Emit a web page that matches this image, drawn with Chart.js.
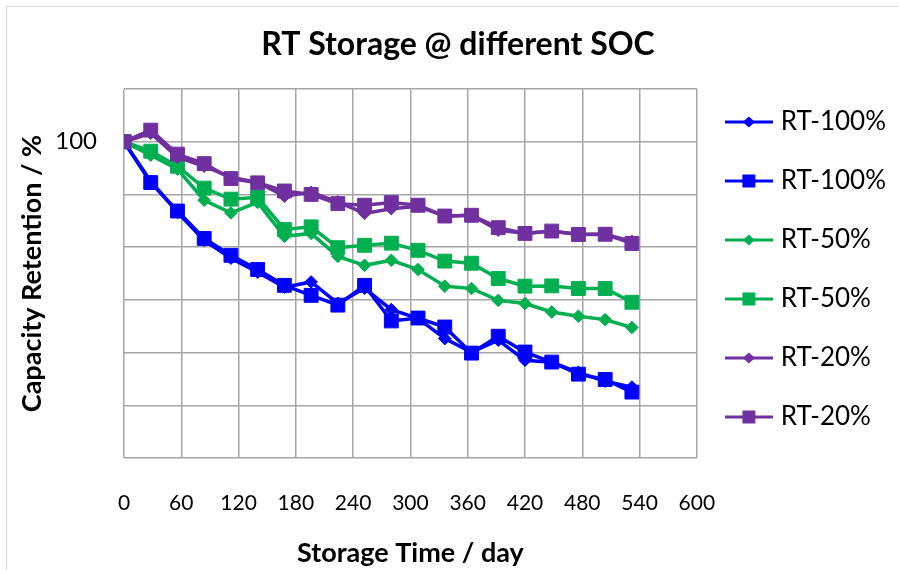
<!DOCTYPE html>
<html>
<head>
<meta charset="utf-8">
<script src="https://cdn.jsdelivr.net/npm/chart.js@4.4.1/dist/chart.umd.min.js"></script>
<style>
html,body{margin:0;padding:0;background:#fff;}
#wrap{width:899px;height:570px;position:relative;}
</style>
</head>
<body>
<div id="wrap"><canvas id="c" width="899" height="570"></canvas></div>
<script>
// ---- data ----
const days = [0,28,56,84,112,140,168,196,224,252,280,308,336,364,392,420,448,476,504,532];
const rt100Diamond = [100,98.50,97.32,96.26,95.58,95.05,94.48,94.68,93.87,94.44,93.63,93.30,92.53,92.01,92.47,91.71,91.63,91.25,90.91,90.69];
const rt100Square  = [100,98.45,97.37,96.33,95.69,95.15,94.55,94.17,93.80,94.55,93.20,93.31,92.97,91.98,92.62,92.02,91.64,91.18,90.98,90.50];
const rt50Diamond  = [100,99.49,98.96,97.78,97.30,97.70,96.41,96.52,95.65,95.31,95.50,95.15,94.52,94.43,93.98,93.86,93.54,93.38,93.25,92.95];
const rt50Square   = [100,99.64,99.07,98.24,97.82,97.89,96.67,96.77,95.98,96.07,96.15,95.88,95.47,95.39,94.81,94.52,94.53,94.43,94.43,93.91];
const rt20Diamond  = [100,100.32,99.41,99.07,98.65,98.46,97.93,98.08,97.72,97.28,97.46,97.55,97.17,97.21,96.64,96.53,96.60,96.49,96.49,96.22];
const rt20Square   = [100,100.44,99.53,99.17,98.60,98.44,98.13,98.00,97.65,97.59,97.69,97.59,97.18,97.21,96.74,96.52,96.61,96.48,96.49,96.14];
const seriesNames = ['RT-100%','RT-100%','RT-50%','RT-50%','RT-20%','RT-20%'];
const seriesValues = [rt100Diamond, rt100Square, rt50Diamond, rt50Square, rt20Diamond, rt20Square];
const xTickValues = [0,60,120,180,240,300,360,420,480,540,600];
const yShownTick = 100;

// ---- styles ----
const colors = ['#0000FF','#0000FF','#00B050','#00B050','#7030A0','#7030A0'];
const shapes = ['rectRot','rect','rectRot','rect','rectRot','rect'];
const FONT = 'Lato, "Open Sans", sans-serif';

function makeIcon(color, shape){
  const c = document.createElement('canvas');
  c.width = 48; c.height = 16;
  const g = c.getContext('2d');
  g.strokeStyle = color; g.lineWidth = 3;
  g.beginPath(); g.moveTo(0,8); g.lineTo(48,8); g.stroke();
  g.fillStyle = color;
  if (shape === 'rect') {
    g.fillRect(24-6.5, 8-6.5, 13, 13);
  } else {
    g.beginPath(); g.moveTo(18,8); g.lineTo(24,2.5); g.lineTo(30,8); g.lineTo(24,13.5); g.closePath(); g.fill();
  }
  return c;
}
const icons = colors.map((c,i) => makeIcon(c, shapes[i]));

const datasets = seriesValues.map((vals, i) => ({
  label: seriesNames[i],
  data: days.map((d, j) => ({x: d, y: vals[j]})),
  borderColor: colors[i],
  backgroundColor: colors[i],
  borderWidth: 3.5,
  pointStyle: shapes[i],
  pointRadius: shapes[i] === 'rect' ? 9.8 : 6.3,
  pointBorderWidth: 1,
  pointBorderColor: colors[i],
  pointBackgroundColor: colors[i],
  tension: 0,
  order: 10 - i
}));

const bgPlugin = {
  id: 'bg',
  beforeDraw(chart){
    const ctx = chart.ctx;
    ctx.save();
    ctx.fillStyle = '#fff';
    ctx.fillRect(0,0,chart.width,chart.height);
    ctx.strokeStyle = '#D9D9D9';
    ctx.lineWidth = 1;
    ctx.strokeRect(6.5, 6.5, chart.width + 20, chart.height + 20);
    ctx.restore();
  }
};

new Chart(document.getElementById('c'), {
  type: 'line',
  data: { datasets },
  plugins: [bgPlugin],
  options: {
    responsive: false,
    animation: false,
    devicePixelRatio: 1,
    layout: { padding: { left: 20, right: 3, top: 0, bottom: 31 } },
    plugins: {
      title: {
        display: true,
        text: 'RT Storage @ different SOC',
        color: '#000',
        font: { family: FONT, size: 32, weight: 'bold' },
        padding: { top: 25.8, bottom: 24.8 }
      },
      legend: {
        position: 'right',
        align: 'center',
        labels: {
          usePointStyle: true,
          pointStyleWidth: 38,
          padding: 33,
          color: '#000',
          font: { family: FONT, size: 26 },
          sort: (a, b) => a.datasetIndex - b.datasetIndex,
          generateLabels(chart){
            const items = Chart.defaults.plugins.legend.labels.generateLabels(chart);
            items.forEach(it => { it.pointStyle = icons[it.datasetIndex]; it.rotation = 0; });
            return items;
          }
        }
      },
      tooltip: { enabled: false }
    },
    scales: {
      x: {
        type: 'linear',
        min: 0, max: 600,
        afterBuildTicks(scale){ scale.ticks = xTickValues.map(v => ({value: v})); },
        ticks: { padding: 32.4, color: '#000', maxRotation: 0, autoSkip: false, font: { family: FONT, size: 21 } },
        grid: { color: '#A6A6A6', lineWidth: 1.5, drawTicks: false },
        border: { display: false },
        title: {
          display: true, text: 'Storage Time / day', color: '#000',
          font: { family: FONT, size: 27, weight: 'bold' },
          padding: { top: 0, bottom: -30.2 }
        },
        afterFit(scale){ scale.height = 81; }
      },
      y: {
        min: 88, max: 102,
        ticks: {
          stepSize: 2, padding: 27, color: '#000', autoSkip: false,
          font: { family: FONT, size: 24 },
          callback: v => (v === yShownTick ? String(yShownTick) : '')
        },
        grid: { color: '#A6A6A6', lineWidth: 1.5, drawTicks: false },
        border: { display: false },
        title: {
          display: true, text: 'Capacity Retention / %', color: '#000',
          font: { family: FONT, size: 27, weight: 'bold' },
          padding: { top: -4.2, bottom: 0 }
        },
        afterFit(scale){ scale.width = 104; }
      }
    }
  }
});
</script>
</body>
</html>
